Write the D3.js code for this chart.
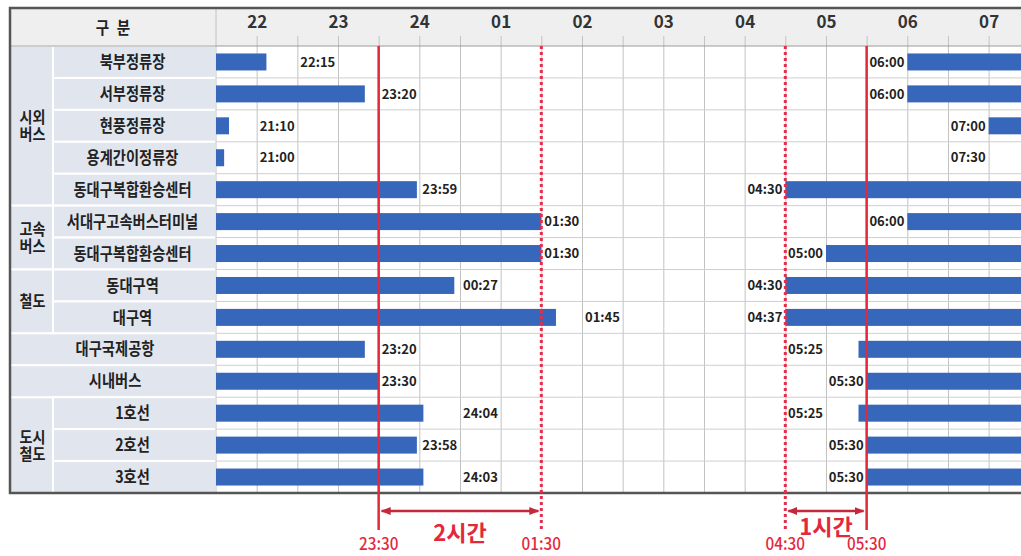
<!DOCTYPE html>
<html>
<head>
<meta charset="utf-8">
<script src="https://cdn.jsdelivr.net/npm/d3@7/dist/d3.min.js"></script>
<style>
    body { margin: 0; background: #fff; }
    text { font-family: "Noto Sans CJK KR", "Noto Sans", sans-serif; }
</style>
</head>
<body>
<div id="graphic"></div>
<script>
// Table rows (stations / lines)
var stations = ["북부정류장", "서부정류장", "현풍정류장", "용계간이정류장", "동대구복합환승센터",
    "서대구고속버스터미널", "동대구복합환승센터", "동대구역", "대구역", "대구국제공항", "시내버스",
    "1호선", "2호선", "3호선"];
var groupOf = ["시외버스", "시외버스", "시외버스", "시외버스", "시외버스", "고속버스", "고속버스",
    "철도", "철도", "", "", "도시철도", "도시철도", "도시철도"];

// Hours: 24 = midnight, 25.5 = 01:30 next day
var hourTicks = [22, 23, 24, 25, 26, 27, 28, 29, 30, 31];
var hourLabels = ["22", "23", "24", "01", "02", "03", "04", "05", "06", "07"];

// last service (evening bar end) and its label
var lastBus = [22.12, 23.33, 21.66, 21.6, 23.97, 25.5, 25.5, 24.43, 25.68, 23.33, 23.5, 24.05, 23.97, 24.05];
var lastLabel = ["22:15", "23:20", "21:10", "21:00", "23:59", "01:30", "01:30", "00:27", "01:45", "23:20", "23:30", "24:04", "23:58", "24:03"];

// first service (morning bar start) and its label
var firstBus = [30, 30, 31, 31.5, 28.5, 30, 29, 28.5, 28.5, 29.4, 29.5, 29.4, 29.5, 29.5];
var firstLabel = ["06:00", "06:00", "07:00", "07:30", "04:30", "06:00", "05:00", "04:30", "04:37", "05:25", "05:30", "05:25", "05:30", "05:30"];

// red guide lines and the spans between them
var guideTimes = [23.5, 25.5, 28.5, 29.5];
var guideLabels = ["23:30", "01:30", "04:30", "05:30"];
var guideDotted = [false, true, true, false];
var spanFrom = [23.5, 28.5];
var spanTo = [25.5, 29.5];
var spanLabels = ["2시간", "1시간"];

var svgWidth = 1021;
var svgHeight = 556;
var tableLeft = 10, split = 53, chartLeft = 216;
var tableTop = 8, headBottom = 46, tableBottom = 493;

var svg = d3.select("#graphic")
    .append("svg")
    .attr("width", svgWidth)
    .attr("height", svgHeight);

svg.append("rect").attr("width", svgWidth).attr("height", svgHeight).attr("fill", "#fff");

var x = d3.scaleLinear()
    .domain([21.5, 31.5])
    .range([chartLeft, chartLeft + 10 * 81.33]);

var y = d3.scaleBand()
    .domain(d3.range(stations.length))
    .range([headBottom, tableBottom]);

var barH = 17;

// header background
svg.append("rect")
    .attr("x", tableLeft).attr("y", tableTop)
    .attr("width", svgWidth - tableLeft).attr("height", headBottom - tableTop)
    .attr("fill", "#efefef");

// consecutive group runs
var runs = [];
groupOf.forEach(function(g, i) {
    var last = runs[runs.length - 1];
    if (last && last.name === g && g !== "") last.end = i;
    else runs.push({ name: g, start: i, end: i });
});

var cellFill = "#e1e5ee";
var labels = svg.append("g");

// group cells
labels.selectAll("rect.group")
    .data(runs.filter(function(r) { return r.name !== ""; }))
    .enter()
    .append("rect")
    .attr("class", "group")
    .attr("x", tableLeft).attr("y", function(r) { return y(r.start); })
    .attr("width", split - tableLeft)
    .attr("height", function(r) { return y(r.end) + y.bandwidth() - y(r.start); })
    .attr("fill", cellFill).attr("stroke", "#fff").attr("stroke-width", 2);

// station cells
labels.selectAll("rect.station")
    .data(stations)
    .enter()
    .append("rect")
    .attr("class", "station")
    .attr("x", function(d, i) { return groupOf[i] === "" ? tableLeft : split; })
    .attr("y", function(d, i) { return y(i); })
    .attr("width", function(d, i) { return chartLeft - (groupOf[i] === "" ? tableLeft : split); })
    .attr("height", y.bandwidth())
    .attr("fill", cellFill).attr("stroke", "#fff").attr("stroke-width", 2);

// condensed bold korean text
function condensed(sel, size, sx) {
    return sel.append("text")
        .attr("text-anchor", "middle")
        .attr("dy", "0.36em")
        .attr("font-size", size)
        .attr("font-weight", "bold")
        .attr("fill", "#222")
        .attr("transform", "scale(" + sx + ",1)");
}

labels.selectAll("g.stationLabel")
    .data(stations)
    .enter()
    .append("g")
    .attr("class", "stationLabel")
    .attr("transform", function(d, i) {
        var cx = groupOf[i] === "" ? (tableLeft + chartLeft) / 2 + 2 : (split + chartLeft) / 2 - 2;
        return "translate(" + cx + "," + (y(i) + y.bandwidth() / 2) + ")";
    })
    .each(function(d) { condensed(d3.select(this), 17, 0.84).text(d); });

// group names, two characters per line, one text element each
labels.selectAll("g.groupLabel")
    .data(runs.filter(function(r) { return r.name !== ""; }))
    .enter()
    .append("g")
    .attr("class", "groupLabel")
    .attr("transform", function(r) {
        var cy = (y(r.start) + y(r.end) + y.bandwidth()) / 2;
        return "translate(" + ((tableLeft + split) / 2 + 1) + "," + cy + ")";
    })
    .each(function(r) {
        var lines = r.name.match(/.{1,2}/g);
        var t = condensed(d3.select(this), 16, 0.88).attr("dy", null);
        lines.forEach(function(line, k) {
            t.append("tspan")
                .attr("x", 0)
                .attr("y", (k - (lines.length - 1) / 2) * 17 + 6)
                .text(line);
        });
    });

// header title
svg.append("g")
    .attr("transform", "translate(" + ((tableLeft + chartLeft) / 2) + "," + ((tableTop + headBottom) / 2 + 1) + ")")
    .call(function(g) { condensed(g, 17, 0.86).attr("word-spacing", 5).text("구 분"); });

// half hour grid + header ticks
var halfHours = d3.range(22, 31.6, 0.5);
svg.append("g")
    .attr("transform", "translate(0," + 36 + ")")
    .call(d3.axisTop(x).tickValues(halfHours).tickSize(-(tableBottom - 36)).tickFormat(""))
    .call(function(g) {
        g.select(".domain").remove();
        g.selectAll(".tick line").attr("stroke", "#c2c2c2");
    });

// hour labels
svg.append("g")
    .attr("transform", "translate(0," + 31 + ")")
    .call(d3.axisTop(x).tickValues(hourTicks).tickSize(0)
        .tickFormat(function(d, i) { return hourLabels[i]; }))
    .call(function(g) {
        g.select(".domain").remove();
        g.selectAll(".tick text")
            .attr("font-family", "\"Noto Sans CJK KR\", sans-serif")
            .attr("font-size", 17)
            .attr("font-weight", "bold")
            .attr("fill", "#333");
    });

// header / chart separator
svg.append("line")
    .attr("x1", chartLeft).attr("x2", chartLeft)
    .attr("y1", tableTop).attr("y2", tableBottom)
    .attr("stroke", "#c2c2c2");

// row lines in the chart area
svg.append("g").selectAll("line")
    .data(d3.range(stations.length))
    .enter()
    .append("line")
    .attr("x1", chartLeft).attr("x2", svgWidth)
    .attr("y1", function(i) { return y(i) + y.bandwidth(); })
    .attr("y2", function(i) { return y(i) + y.bandwidth(); })
    .attr("stroke", "#cfcfcf");

svg.append("line")
    .attr("x1", tableLeft).attr("x2", svgWidth)
    .attr("y1", headBottom).attr("y2", headBottom)
    .attr("stroke", "#9a9a9a");

var barColor = "#3767ba";
var bars = svg.append("g");

// evening bars
bars.selectAll("rect.last")
    .data(lastBus)
    .enter()
    .append("rect")
    .attr("class", "last")
    .attr("x", x(21.5))
    .attr("y", function(d, i) { return y(i) + (y.bandwidth() - barH) / 2; })
    .attr("width", function(d) { return x(d) - x(21.5); })
    .attr("height", barH)
    .attr("fill", barColor);

// morning bars
bars.selectAll("rect.first")
    .data(firstBus)
    .enter()
    .append("rect")
    .attr("class", "first")
    .attr("x", function(d) { return x(d); })
    .attr("y", function(d, i) { return y(i) + (y.bandwidth() - barH) / 2; })
    .attr("width", function(d) { return Math.max(0, x(31.5) - x(d)); })
    .attr("height", barH)
    .attr("fill", barColor);

// time labels: evening labels start at the next half-hour line,
// morning labels end at the half-hour line before the bar
bars.selectAll("text.last")
    .data(lastBus)
    .enter()
    .append("text")
    .attr("class", "last")
    .attr("x", function(d) { return x(Math.ceil(d * 2 - 0.01) / 2) + 3; })
    .attr("y", function(d, i) { return y(i) + y.bandwidth() / 2; })
    .attr("dy", "0.36em")
    .attr("font-size", 13)
    .attr("font-weight", "bold")
    .attr("fill", "#222")
    .text(function(d, i) { return lastLabel[i]; });

bars.selectAll("text.first")
    .data(firstBus)
    .enter()
    .append("text")
    .attr("class", "first")
    .attr("x", function(d) { return x(Math.floor(Math.min(d, 31.4) * 2) / 2) - 3; })
    .attr("y", function(d, i) { return y(i) + y.bandwidth() / 2; })
    .attr("dy", "0.36em")
    .attr("text-anchor", "end")
    .attr("font-size", 13)
    .attr("font-weight", "bold")
    .attr("fill", "#222")
    .text(function(d, i) { return firstLabel[i]; });

// outer border
svg.append("path")
    .attr("d", "M" + svgWidth + "," + tableTop + "H" + tableLeft + "V" + tableBottom + "H" + svgWidth)
    .attr("fill", "none")
    .attr("stroke", "#555")
    .attr("stroke-width", 2.5);

// red guide lines
var red = "#e4283c";
svg.append("g").selectAll("line")
    .data(guideTimes)
    .enter()
    .append("line")
    .attr("x1", function(d) { return x(d); })
    .attr("x2", function(d) { return x(d); })
    .attr("y1", headBottom)
    .attr("y2", 530)
    .attr("stroke", function(d, i) { return guideDotted[i] ? "#e0304e" : red; })
    .attr("stroke-width", function(d, i) { return guideDotted[i] ? 3 : 2.5; })
    .attr("stroke-dasharray", function(d, i) { return guideDotted[i] ? "3,3" : null; });

svg.append("g").selectAll("text")
    .data(guideTimes)
    .enter()
    .append("g")
    .attr("transform", function(d) { return "translate(" + x(d) + ",550) scale(0.9,1)"; })
    .append("text")
    .attr("text-anchor", "middle")
    .attr("font-size", 17)
    .attr("font-weight", 500)
    .attr("fill", red)
    .text(function(d, i) { return guideLabels[i]; });

// span arrows
var defs = svg.append("defs");
defs.append("marker")
    .attr("id", "arrow")
    .attr("viewBox", "0 0 10 8")
    .attr("refX", 9).attr("refY", 4)
    .attr("markerUnits", "userSpaceOnUse")
    .attr("markerWidth", 10).attr("markerHeight", 8)
    .attr("orient", "auto-start-reverse")
    .append("path")
    .attr("d", "M0,0L10,4L0,8Z")
    .attr("fill", "#c4283a");

svg.append("g").selectAll("line")
    .data(spanFrom)
    .enter()
    .append("line")
    .attr("x1", function(d) { return x(d) + 3; })
    .attr("x2", function(d, i) { return x(spanTo[i]) - 3; })
    .attr("y1", 511).attr("y2", 511)
    .attr("stroke", "#c4283a")
    .attr("stroke-width", 2.5)
    .attr("marker-start", "url(#arrow)")
    .attr("marker-end", "url(#arrow)");

svg.append("g").selectAll("text")
    .data(spanFrom)
    .enter()
    .append("text")
    .attr("x", function(d, i) { return (x(d) + x(spanTo[i])) / 2; })
    .attr("y", function(d, i) { return i === 0 ? 541 : 535; })
    .attr("text-anchor", "middle")
    .attr("font-size", 22)
    .attr("font-weight", "bold")
    .attr("fill", red)
    .text(function(d, i) { return spanLabels[i]; });
</script>
</body>
</html>
